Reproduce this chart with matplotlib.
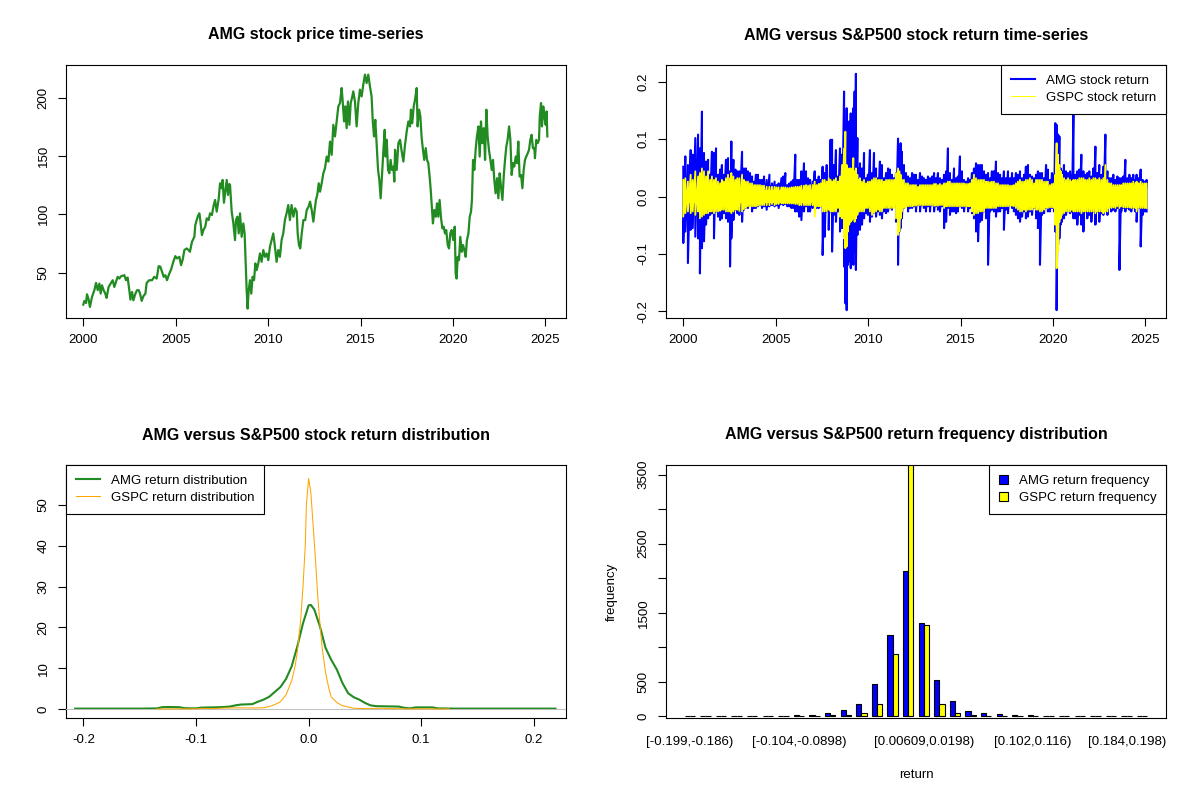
import numpy as np
import matplotlib
matplotlib.use("Agg")
import matplotlib.pyplot as plt
from matplotlib.lines import Line2D
from matplotlib.patches import Patch

plt.rcParams['font.family'] = ['Liberation Sans', 'DejaVu Sans']
plt.rcParams['axes.unicode_minus'] = False

# ------------------------------------------------------------------ data
# AMG closing price, three segments
price_years_a = [2000.00, 2000.06, 2000.15, 2000.20, 2000.29, 2000.36, 2000.47, 2000.60, 2000.69, 2000.78,
                 2000.87, 2000.94, 2001.01, 2001.10, 2001.19, 2001.26, 2001.37, 2001.50, 2001.59, 2001.68,
                 2001.77, 2001.86, 2001.95, 2002.04, 2002.22, 2002.31, 2002.40, 2002.49, 2002.55, 2002.64,
                 2002.71, 2002.82, 2002.91, 2003.00, 2003.07, 2003.16, 2003.25, 2003.36, 2003.43, 2003.57,
                 2003.72, 2003.84, 2003.97, 2004.08, 2004.17, 2004.26, 2004.35, 2004.44, 2004.53, 2004.62,
                 2004.75, 2004.87, 2004.98, 2005.07, 2005.20, 2005.29, 2005.38, 2005.47, 2005.59, 2005.70,
                 2005.77, 2005.88, 2006.01, 2006.06, 2006.19, 2006.28, 2006.33, 2006.42, 2006.50, 2006.60,
                 2006.68, 2006.78, 2006.86, 2006.96, 2007.04, 2007.13, 2007.22, 2007.33, 2007.40, 2007.49,
                 2007.54, 2007.61, 2007.67, 2007.76, 2007.83, 2007.90]
price_values_a = [22.4, 25.6, 23.8, 31.3, 26.7, 20.4, 29.0, 34.8, 41.1, 34.8,
                  40.5, 31.9, 39.0, 34.8, 31.9, 28.2, 37.6, 41.1, 43.4, 37.6,
                  42.0, 46.3, 44.8, 46.8, 47.7, 43.4, 45.7, 34.8, 26.7, 33.3,
                  26.1, 31.9, 34.8, 34.8, 31.9, 25.6, 29.6, 31.9, 41.1, 43.4,
                  43.4, 46.3, 44.8, 55.5, 55.0, 50.6, 46.3, 47.7, 43.4, 47.7,
                  52.6, 59.2, 64.1, 62.1, 63.5, 56.3, 61.2, 69.3, 70.7, 69.3,
                  67.8, 76.4, 80.7, 90.8, 98.0, 100.9, 95.1, 82.2, 86.5, 89.4,
                  96.6, 95.1, 100.9, 99.4, 106.6, 112.4, 102.3, 113.8, 126.7, 122.4,
                  129.6, 110.0, 118.1, 129.6, 116.7, 126.1]
price_years_b = [2007.94, 2008.03, 2008.12, 2008.21, 2008.26, 2008.34, 2008.41, 2008.48, 2008.57, 2008.66,
                 2008.73, 2008.79, 2008.84, 2008.89, 2008.95, 2009.02, 2009.09, 2009.16, 2009.24, 2009.31,
                 2009.38, 2009.47, 2009.56, 2009.65, 2009.74, 2009.83, 2009.92, 2010.01, 2010.10, 2010.19,
                 2010.28, 2010.37, 2010.46, 2010.55, 2010.64, 2010.73, 2010.82, 2010.91, 2011.00, 2011.09,
                 2011.18, 2011.27, 2011.37, 2011.46, 2011.55, 2011.60, 2011.67, 2011.74, 2011.82, 2011.91,
                 2012.01, 2012.09, 2012.19, 2012.27, 2012.36, 2012.45, 2012.52, 2012.59, 2012.66, 2012.74,
                 2012.81, 2012.90, 2012.99, 2013.08, 2013.17, 2013.26, 2013.35, 2013.44, 2013.53, 2013.62,
                 2013.71, 2013.80, 2013.89, 2013.98, 2014.03, 2014.11, 2014.18, 2014.25, 2014.32, 2014.40,
                 2014.47, 2014.54, 2014.61, 2014.70, 2014.79, 2014.88, 2014.97, 2015.06, 2015.15, 2015.24,
                 2015.33, 2015.42, 2015.51, 2015.60, 2015.66, 2015.73, 2015.80, 2015.87, 2015.95, 2016.02,
                 2016.09, 2016.16, 2016.24, 2016.31, 2016.36, 2016.42, 2016.49, 2016.56, 2016.63, 2016.70,
                 2016.78, 2016.83]
price_values_b = [125.3, 102.3, 92.2, 77.9, 95.1, 98.0, 83.6, 100.9, 80.7, 92.2,
                  83.6, 57.8, 34.8, 19.0, 34.8, 43.4, 31.9, 46.3, 43.4, 57.8,
                  52.0, 57.8, 66.4, 59.2, 69.3, 63.5, 66.4, 60.6, 72.1, 77.9,
                  83.6, 72.1, 59.2, 69.3, 63.5, 77.9, 83.6, 95.1, 100.9, 108.0,
                  95.1, 108.0, 98.0, 105.2, 102.3, 83.6, 73.6, 70.7, 83.6, 95.1,
                  95.1, 103.7, 106.6, 110.9, 103.7, 93.7, 103.7, 112.4, 116.7, 126.7,
                  119.5, 126.7, 135.3, 139.7, 149.7, 145.4, 162.6, 151.1, 177.0, 167.0,
                  179.9, 192.8, 195.7, 208.6, 198.6, 179.9, 192.8, 174.1, 197.1, 177.0,
                  195.7, 200.0, 205.7, 197.1, 175.6, 195.7, 207.2, 201.4, 211.5, 220.1,
                  212.9, 220.1, 210.1, 201.4, 181.3, 167.0, 181.3, 161.2, 138.2, 129.6,
                  113.8, 132.5, 155.5, 172.7, 149.7, 164.1, 138.2, 135.3, 146.8, 138.2,
                  141.1, 128.2]
price_years_c = [2016.87, 2016.96, 2017.05, 2017.14, 2017.23, 2017.32, 2017.41, 2017.50, 2017.59, 2017.68,
                 2017.73, 2017.80, 2017.88, 2017.95, 2018.04, 2018.09, 2018.17, 2018.24, 2018.31, 2018.38,
                 2018.45, 2018.53, 2018.60, 2018.67, 2018.74, 2018.80, 2018.85, 2018.92, 2018.99, 2019.07,
                 2019.14, 2019.21, 2019.28, 2019.36, 2019.43, 2019.50, 2019.57, 2019.64, 2019.72, 2019.79,
                 2019.86, 2019.93, 2020.02, 2020.10, 2020.15, 2020.20, 2020.26, 2020.33, 2020.40, 2020.48,
                 2020.55, 2020.62, 2020.69, 2020.76, 2020.84, 2020.91, 2020.98, 2021.03, 2021.09, 2021.16,
                 2021.23, 2021.30, 2021.38, 2021.45, 2021.52, 2021.59, 2021.67, 2021.74, 2021.81, 2021.88,
                 2021.95, 2022.03, 2022.10, 2022.17, 2022.24, 2022.31, 2022.39, 2022.46, 2022.53, 2022.60,
                 2022.68, 2022.75, 2022.82, 2022.89, 2022.96, 2023.04, 2023.11, 2023.18, 2023.25, 2023.32,
                 2023.40, 2023.47, 2023.54, 2023.61, 2023.69, 2023.76, 2023.83, 2023.90, 2023.97, 2024.05,
                 2024.12, 2024.19, 2024.26, 2024.33, 2024.41, 2024.44, 2024.51, 2024.59, 2024.66, 2024.70,
                 2024.77, 2024.82, 2024.89, 2024.95, 2025.02, 2025.07, 2025.11]
price_values_c = [155.5, 138.2, 161.2, 164.1, 154.0, 145.4, 159.8, 171.3, 179.9, 175.6,
                  190.0, 178.4, 192.8, 198.6, 208.6, 175.6, 190.0, 184.2, 165.5, 155.5,
                  146.8, 156.9, 146.8, 144.0, 132.5, 121.0, 109.5, 92.2, 103.7, 98.0,
                  109.5, 98.0, 112.4, 96.6, 87.9, 89.4, 83.6, 86.5, 73.6, 70.7,
                  83.6, 86.5, 77.9, 89.4, 49.1, 44.8, 63.5, 60.6, 80.7, 67.8,
                  73.6, 69.3, 63.5, 77.9, 83.6, 98.0, 102.3, 112.4, 146.8, 138.2,
                  155.5, 167.0, 175.6, 149.7, 179.9, 161.2, 174.1, 146.8, 190.0, 167.0,
                  155.5, 146.8, 138.2, 146.8, 129.6, 118.1, 131.1, 113.8, 135.3, 123.9,
                  112.4, 132.5, 146.8, 158.3, 164.1, 175.6, 164.1, 133.9, 144.0, 141.1,
                  149.7, 144.0, 162.6, 132.5, 133.9, 122.4, 138.2, 146.8, 149.7, 152.6,
                  155.5, 164.1, 168.4, 156.9, 156.9, 148.3, 164.1, 161.2, 164.1, 184.2,
                  195.7, 175.6, 192.8, 184.2, 177.0, 188.5, 167.0]

# Daily returns, summarised per chart column as (high, low) for AMG and GSPC
ret_years_1 = [2000.00, 2000.11, 2000.25, 2000.40, 2000.51, 2000.65, 2000.80, 2000.90, 2001.01, 2001.12,
               2001.23, 2001.34, 2001.45, 2001.55, 2001.66, 2001.77, 2001.88, 2001.99, 2002.09, 2002.20,
               2002.31, 2002.42, 2002.53, 2002.60, 2002.71, 2002.82, 2002.92, 2003.03, 2003.18, 2003.28,
               2003.39, 2003.50, 2003.61, 2003.72, 2003.83, 2003.93, 2004.04, 2004.15, 2004.26, 2004.37,
               2004.51, 2004.66, 2004.80, 2004.94, 2005.05, 2005.16, 2005.31, 2005.41, 2005.52, 2005.63,
               2005.74, 2005.85, 2005.95, 2006.06, 2006.17, 2006.28, 2006.39, 2006.53, 2006.64, 2006.75,
               2006.86, 2007.00, 2007.11, 2007.22, 2007.33, 2007.43, 2007.54, 2007.65, 2007.76, 2007.87,
               2007.97]
amg_ret_high_1 = [0.052, 0.070, 0.055, 0.081, 0.073, 0.102, 0.108, 0.084, 0.148, 0.076,
                  0.061, 0.064, 0.038, 0.078, 0.076, 0.084, 0.038, 0.047, 0.055, 0.038,
                  0.064, 0.067, 0.044, 0.096, 0.064, 0.047, 0.044, 0.044, 0.078, 0.049,
                  0.049, 0.044, 0.041, 0.035, 0.026, 0.038, 0.038, 0.029, 0.029, 0.035,
                  0.029, 0.038, 0.023, 0.026, 0.020, 0.023, 0.032, 0.035, 0.041, 0.020,
                  0.023, 0.026, 0.029, 0.073, 0.029, 0.029, 0.044, 0.058, 0.044, 0.032,
                  0.029, 0.026, 0.044, 0.029, 0.035, 0.029, 0.052, 0.041, 0.055, 0.026,
                  0.099]
amg_ret_low_1 = [-0.081, -0.061, -0.116, -0.058, -0.055, -0.070, -0.073, -0.134, -0.090, -0.078,
                 -0.049, -0.038, -0.032, -0.029, -0.073, -0.026, -0.035, -0.041, -0.038, -0.029,
                 -0.038, -0.044, -0.122, -0.073, -0.041, -0.023, -0.029, -0.032, -0.044, -0.023,
                 -0.020, -0.020, -0.015, -0.026, -0.020, -0.020, -0.017, -0.015, -0.020, -0.017,
                 -0.023, -0.017, -0.015, -0.017, -0.015, -0.020, -0.013, -0.015, -0.013, -0.017,
                 -0.017, -0.020, -0.020, -0.026, -0.026, -0.035, -0.041, -0.026, -0.017, -0.026,
                 -0.026, -0.020, -0.015, -0.020, -0.020, -0.017, -0.102, -0.070, -0.026, -0.058,
                 -0.026]
gspc_ret_high_1 = [0.029, 0.032, 0.026, 0.038, 0.029, 0.044, 0.035, 0.041, 0.049, 0.044,
                   0.035, 0.044, 0.029, 0.035, 0.029, 0.032, 0.026, 0.023, 0.029, 0.026,
                   0.032, 0.038, 0.032, 0.041, 0.035, 0.029, 0.032, 0.032, 0.038, 0.029,
                   0.026, 0.026, 0.023, 0.023, 0.020, 0.020, 0.020, 0.020, 0.019, 0.019,
                   0.017, 0.017, 0.017, 0.017, 0.016, 0.016, 0.016, 0.016, 0.016, 0.015,
                   0.015, 0.016, 0.016, 0.017, 0.017, 0.017, 0.019, 0.019, 0.020, 0.019,
                   0.020, 0.020, 0.026, 0.020, 0.022, 0.023, 0.029, 0.029, 0.026, 0.032,
                   0.029]
gspc_ret_low_1 = [-0.035, -0.029, -0.026, -0.029, -0.026, -0.032, -0.026, -0.038, -0.035, -0.032,
                  -0.029, -0.029, -0.026, -0.026, -0.029, -0.026, -0.026, -0.025, -0.023, -0.023,
                  -0.026, -0.026, -0.026, -0.029, -0.026, -0.023, -0.023, -0.025, -0.026, -0.022,
                  -0.020, -0.017, -0.017, -0.017, -0.017, -0.017, -0.016, -0.015, -0.015, -0.015,
                  -0.015, -0.015, -0.013, -0.015, -0.013, -0.013, -0.012, -0.012, -0.012, -0.012,
                  -0.012, -0.012, -0.012, -0.013, -0.013, -0.015, -0.015, -0.015, -0.015, -0.015,
                  -0.015, -0.015, -0.035, -0.017, -0.017, -0.017, -0.026, -0.026, -0.026, -0.023,
                  -0.026]

ret_years_2 = [2008.05, 2008.15, 2008.26, 2008.37, 2008.48, 2008.59, 2008.70, 2008.77, 2008.84, 2008.91,
               2008.98, 2009.06, 2009.13, 2009.20, 2009.27, 2009.34, 2009.42, 2009.49, 2009.56, 2009.67,
               2009.78, 2009.89, 2009.99, 2010.10, 2010.21, 2010.32, 2010.43, 2010.54, 2010.64, 2010.75,
               2010.86, 2010.97, 2011.08, 2011.18, 2011.29, 2011.40, 2011.51, 2011.62, 2011.69, 2011.76,
               2011.83, 2011.94, 2012.05, 2012.16, 2012.27, 2012.38, 2012.48, 2012.59, 2012.70, 2012.81,
               2012.92, 2013.02, 2013.13, 2013.24, 2013.35, 2013.46, 2013.57, 2013.67, 2013.78, 2013.89,
               2014.00, 2014.11, 2014.22, 2014.32, 2014.43, 2014.54, 2014.65, 2014.76, 2014.86, 2014.97,
               2015.08, 2015.19, 2015.30, 2015.41, 2015.51, 2015.62, 2015.73, 2015.84, 2015.95, 2016.06,
               2016.16, 2016.27, 2016.38, 2016.49, 2016.60, 2016.70]
amg_ret_high_2 = [0.099, 0.055, 0.081, 0.035, 0.084, 0.073, 0.183, 0.113, 0.154, 0.087,
                  0.131, 0.145, 0.131, 0.154, 0.183, 0.214, 0.102, 0.049, 0.058, 0.049,
                  0.076, 0.032, 0.038, 0.081, 0.041, 0.076, 0.049, 0.032, 0.061, 0.055,
                  0.032, 0.041, 0.049, 0.047, 0.038, 0.032, 0.041, 0.101, 0.078, 0.093,
                  0.078, 0.055, 0.041, 0.035, 0.032, 0.041, 0.038, 0.038, 0.029, 0.041,
                  0.035, 0.032, 0.029, 0.035, 0.032, 0.035, 0.041, 0.032, 0.041, 0.032,
                  0.029, 0.038, 0.044, 0.084, 0.041, 0.029, 0.049, 0.032, 0.035, 0.070,
                  0.044, 0.029, 0.026, 0.032, 0.029, 0.041, 0.049, 0.058, 0.055, 0.055,
                  0.055, 0.044, 0.038, 0.041, 0.032, 0.044]
amg_ret_low_2 = [-0.096, -0.032, -0.044, -0.026, -0.061, -0.055, -0.122, -0.186, -0.198, -0.119,
                 -0.113, -0.125, -0.102, -0.119, -0.096, -0.128, -0.067, -0.038, -0.058, -0.049,
                 -0.038, -0.029, -0.032, -0.044, -0.035, -0.029, -0.035, -0.026, -0.032, -0.038,
                 -0.026, -0.029, -0.026, -0.020, -0.023, -0.015, -0.044, -0.119, -0.061, -0.055,
                 -0.038, -0.020, -0.015, -0.026, -0.020, -0.020, -0.017, -0.026, -0.015, -0.026,
                 -0.015, -0.020, -0.026, -0.017, -0.026, -0.015, -0.026, -0.017, -0.023, -0.026,
                 -0.017, -0.055, -0.044, -0.020, -0.032, -0.026, -0.026, -0.029, -0.026, -0.017,
                 -0.020, -0.026, -0.017, -0.026, -0.020, -0.029, -0.038, -0.061, -0.078, -0.044,
                 -0.041, -0.026, -0.038, -0.119, -0.026, -0.023]
gspc_ret_high_2 = [0.026, 0.029, 0.032, 0.026, 0.035, 0.055, 0.084, 0.113, 0.055, 0.038,
                   0.049, 0.049, 0.044, 0.067, 0.044, 0.049, 0.038, 0.029, 0.032, 0.026,
                   0.029, 0.023, 0.026, 0.026, 0.029, 0.032, 0.032, 0.029, 0.029, 0.029,
                   0.026, 0.029, 0.029, 0.029, 0.029, 0.029, 0.041, 0.049, 0.044, 0.038,
                   0.029, 0.029, 0.023, 0.023, 0.020, 0.020, 0.020, 0.020, 0.017, 0.020,
                   0.020, 0.020, 0.020, 0.020, 0.020, 0.020, 0.022, 0.022, 0.020, 0.022,
                   0.020, 0.023, 0.023, 0.026, 0.026, 0.023, 0.023, 0.023, 0.023, 0.023,
                   0.023, 0.023, 0.022, 0.022, 0.023, 0.029, 0.038, 0.032, 0.029, 0.029,
                   0.029, 0.029, 0.026, 0.026, 0.025, 0.026]
gspc_ret_low_2 = [-0.026, -0.026, -0.026, -0.020, -0.035, -0.038, -0.073, -0.090, -0.087, -0.061,
                  -0.049, -0.044, -0.041, -0.038, -0.044, -0.038, -0.032, -0.026, -0.026, -0.026,
                  -0.026, -0.020, -0.020, -0.026, -0.032, -0.029, -0.026, -0.023, -0.026, -0.026,
                  -0.020, -0.020, -0.020, -0.020, -0.020, -0.020, -0.038, -0.067, -0.061, -0.038,
                  -0.026, -0.020, -0.020, -0.017, -0.017, -0.017, -0.016, -0.016, -0.015, -0.015,
                  -0.015, -0.015, -0.015, -0.015, -0.015, -0.015, -0.016, -0.016, -0.016, -0.015,
                  -0.015, -0.020, -0.017, -0.017, -0.017, -0.017, -0.017, -0.017, -0.017, -0.017,
                  -0.017, -0.017, -0.017, -0.017, -0.017, -0.026, -0.032, -0.029, -0.029, -0.026,
                  -0.026, -0.026, -0.020, -0.020, -0.020, -0.020]

ret_years_3 = [2016.81, 2016.92, 2017.03, 2017.14, 2017.25, 2017.35, 2017.46, 2017.57, 2017.68, 2017.79,
               2017.89, 2018.00, 2018.11, 2018.22, 2018.33, 2018.44, 2018.54, 2018.65, 2018.76, 2018.87,
               2018.98, 2019.09, 2019.19, 2019.30, 2019.41, 2019.52, 2019.63, 2019.73, 2019.84, 2019.95,
               2020.06, 2020.13, 2020.20, 2020.28, 2020.35, 2020.42, 2020.49, 2020.60, 2020.71, 2020.82,
               2020.93, 2021.03, 2021.11, 2021.21, 2021.32, 2021.43, 2021.54, 2021.65, 2021.75, 2021.86,
               2021.97, 2022.08, 2022.19, 2022.30, 2022.40, 2022.51, 2022.62, 2022.73, 2022.84, 2022.95,
               2023.05, 2023.16, 2023.27, 2023.38, 2023.49, 2023.60, 2023.70, 2023.81, 2023.92, 2024.03,
               2024.14, 2024.24, 2024.35, 2024.46, 2024.53, 2024.64, 2024.75, 2024.86, 2024.97, 2025.07]
amg_ret_high_3 = [0.044, 0.061, 0.041, 0.038, 0.032, 0.044, 0.032, 0.044, 0.032, 0.041,
                  0.032, 0.041, 0.038, 0.044, 0.032, 0.038, 0.052, 0.055, 0.038, 0.035,
                  0.032, 0.038, 0.044, 0.041, 0.041, 0.032, 0.055, 0.047, 0.029, 0.041,
                  0.038, 0.128, 0.125, 0.108, 0.105, 0.049, 0.044, 0.055, 0.044, 0.041,
                  0.044, 0.038, 0.145, 0.038, 0.044, 0.047, 0.073, 0.044, 0.038, 0.041,
                  0.044, 0.035, 0.049, 0.087, 0.041, 0.055, 0.038, 0.052, 0.108, 0.044,
                  0.032, 0.032, 0.038, 0.029, 0.035, 0.032, 0.032, 0.035, 0.064, 0.032,
                  0.038, 0.032, 0.038, 0.029, 0.038, 0.032, 0.047, 0.029, 0.026, 0.029]
amg_ret_low_3 = [-0.026, -0.035, -0.026, -0.026, -0.020, -0.058, -0.023, -0.029, -0.015, -0.020,
                 -0.026, -0.032, -0.038, -0.044, -0.035, -0.026, -0.038, -0.035, -0.026, -0.032,
                 -0.020, -0.038, -0.055, -0.119, -0.032, -0.029, -0.020, -0.026, -0.026, -0.020,
                 -0.026, -0.061, -0.198, -0.084, -0.073, -0.049, -0.044, -0.038, -0.032, -0.026,
                 -0.029, -0.026, -0.038, -0.038, -0.049, -0.032, -0.049, -0.061, -0.026, -0.038,
                 -0.032, -0.044, -0.026, -0.049, -0.026, -0.044, -0.029, -0.032, -0.020, -0.032,
                 -0.017, -0.026, -0.023, -0.026, -0.020, -0.128, -0.026, -0.020, -0.026, -0.020,
                 -0.023, -0.026, -0.020, -0.026, -0.044, -0.020, -0.087, -0.032, -0.026, -0.026]
gspc_ret_high_3 = [0.026, 0.023, 0.023, 0.020, 0.020, 0.020, 0.020, 0.020, 0.019, 0.019,
                   0.020, 0.023, 0.026, 0.029, 0.026, 0.026, 0.029, 0.029, 0.032, 0.029,
                   0.023, 0.029, 0.029, 0.029, 0.029, 0.026, 0.026, 0.026, 0.020, 0.022,
                   0.023, 0.038, 0.093, 0.073, 0.055, 0.044, 0.038, 0.032, 0.029, 0.032,
                   0.029, 0.026, 0.029, 0.029, 0.029, 0.032, 0.032, 0.032, 0.029, 0.029,
                   0.032, 0.029, 0.032, 0.032, 0.029, 0.032, 0.029, 0.032, 0.055, 0.029,
                   0.023, 0.023, 0.020, 0.020, 0.020, 0.020, 0.020, 0.023, 0.023, 0.023,
                   0.023, 0.023, 0.026, 0.023, 0.026, 0.023, 0.026, 0.023, 0.023, 0.023]
gspc_ret_low_3 = [-0.020, -0.020, -0.017, -0.017, -0.017, -0.017, -0.017, -0.017, -0.016, -0.016,
                  -0.017, -0.020, -0.023, -0.026, -0.026, -0.023, -0.026, -0.023, -0.023, -0.023,
                  -0.020, -0.023, -0.023, -0.026, -0.026, -0.023, -0.020, -0.020, -0.019, -0.019,
                  -0.020, -0.049, -0.125, -0.096, -0.044, -0.038, -0.032, -0.029, -0.026, -0.026,
                  -0.026, -0.023, -0.026, -0.026, -0.026, -0.026, -0.029, -0.026, -0.026, -0.026,
                  -0.026, -0.026, -0.026, -0.029, -0.026, -0.026, -0.026, -0.029, -0.026, -0.026,
                  -0.020, -0.020, -0.019, -0.020, -0.017, -0.020, -0.017, -0.019, -0.019, -0.019,
                  -0.019, -0.020, -0.020, -0.020, -0.026, -0.020, -0.020, -0.020, -0.020, -0.020]

# Kernel density of returns
amg_density_x = [-0.2074, -0.18, -0.15, -0.135, -0.13, -0.125, -0.115, -0.11, -0.10, -0.095,
                 -0.085, -0.075, -0.07, -0.065, -0.06, -0.055, -0.05, -0.045, -0.04, -0.035,
                 -0.03, -0.025, -0.02, -0.015, -0.01, -0.005, 0.0, 0.002, 0.005, 0.01,
                 0.015, 0.02, 0.025, 0.03, 0.035, 0.04, 0.045, 0.05, 0.055, 0.06,
                 0.07, 0.08, 0.085, 0.09, 0.095, 0.11, 0.115, 0.13, 0.16, 0.19, 0.2193]
amg_density_y = [0.1, 0.1, 0.1, 0.15, 0.45, 0.5, 0.45, 0.2, 0.15, 0.35,
                 0.4, 0.5, 0.6, 0.9, 1.1, 1.15, 1.2, 1.8, 2.3, 3.0,
                 4.2, 5.4, 7.4, 10.5, 15.4, 21.0, 25.4, 25.5, 24.4, 20.3,
                 15.0, 12.1, 9.7, 6.4, 3.9, 2.9, 2.3, 1.5, 0.9, 0.7,
                 0.65, 0.6, 0.3, 0.15, 0.4, 0.4, 0.15, 0.1, 0.1, 0.1, 0.1]
gspc_density_x = [-0.135, -0.10, -0.095, -0.085, -0.075, -0.06, -0.05, -0.04, -0.035, -0.03,
                  -0.025, -0.02, -0.015, -0.012, -0.01, -0.007, -0.005, -0.003, -0.002, 0.0,
                  0.002, 0.004, 0.006, 0.008, 0.01, 0.012, 0.015, 0.018, 0.02, 0.025,
                  0.03, 0.035, 0.04, 0.05, 0.06, 0.065, 0.07, 0.09, 0.125]
gspc_density_y = [0.02, 0.05, 0.15, 0.1, 0.25, 0.3, 0.25, 0.3, 0.6, 1.1,
                  1.8, 3.5, 7.0, 10.5, 14.0, 22.0, 30.0, 40.0, 50.0, 56.5,
                  53.0, 45.0, 37.0, 28.0, 21.0, 15.0, 9.0, 5.0, 3.0, 1.6,
                  0.8, 0.5, 0.2, 0.1, 0.15, 0.2, 0.1, 0.05, 0.02]

# Return frequency table (30 bins)
hist_bin_labels = ["[-0.199,-0.186)", "[-0.186,-0.172)", "[-0.172,-0.158)", "[-0.158,-0.145)",
                   "[-0.145,-0.131)", "[-0.131,-0.117)", "[-0.117,-0.104)", "[-0.104,-0.0898)",
                   "[-0.0898,-0.0761)", "[-0.0761,-0.0624)", "[-0.0624,-0.0487)", "[-0.0487,-0.035)",
                   "[-0.035,-0.0213)", "[-0.0213,-0.00761)", "[-0.00761,0.00609)", "[0.00609,0.0198)",
                   "[0.0198,0.0335)", "[0.0335,0.0472)", "[0.0472,0.0609)", "[0.0609,0.0746)",
                   "[0.0746,0.0883)", "[0.0883,0.102)", "[0.102,0.116)", "[0.116,0.129)",
                   "[0.129,0.143)", "[0.143,0.157)", "[0.157,0.171)", "[0.171,0.184)",
                   "[0.184,0.198)", "[0.198,0.212]"]
amg_counts = [10, 1, 1, 1, 1, 8, 1, 12, 12, 43, 87, 174, 463, 1176, 2109,
              1345, 521, 217, 77, 48, 34, 12, 12, 10, 1, 10, 1, 1, 1, 1]
gspc_counts = [0, 0, 0, 0, 0, 1, 0, 3, 5, 12, 18, 43, 183, 897, 3700,
               1316, 174, 43, 15, 10, 5, 3, 2, 0, 0, 0, 0, 0, 0, 0]
hist_shown_labels = [0, 7, 15, 22, 28]

# ------------------------------------------------------------------ figure
W, H = 1200.0, 800.0
PX = 0.72                      # points per pixel at dpi 100
FS = 13.3 * PX                 # tick / legend text
TFS = 16 * PX                  # titles

fig = plt.figure(figsize=(12, 8), dpi=100)
fig.patch.set_facecolor('white')


def make_axes(col, row):
    left = 600 * col + 66
    bottom = 400 * row + 318
    return fig.add_axes([left / W, 1 - bottom / H, 500 / W, 253 / H])


def style(ax, title):
    for s in ax.spines.values():
        s.set_linewidth(0.8)
        s.set_color('black')
    ax.tick_params(axis='both', direction='out', length=8 * PX, width=0.8,
                   colors='black', labelsize=FS)
    ax.tick_params(axis='x', pad=7.7 * PX)
    ax.tick_params(axis='y', pad=8.4 * PX)
    ax.annotate(title, xy=(0.5, 1), xycoords='axes fraction', xytext=(0, 30),
                textcoords='offset pixels', ha='center', va='center',
                fontsize=TFS, fontweight='bold')


def add_legend(ax, handles, labels, loc, **over):
    kw = dict(loc=loc, borderaxespad=0, fancybox=False, edgecolor='black',
              facecolor='white', framealpha=1, fontsize=FS, handlelength=1.8,
              handletextpad=0.85, borderpad=0.72, labelspacing=0.36)
    kw.update(over)
    leg = ax.legend(handles, labels, **kw)
    leg.get_frame().set_linewidth(0.8)
    leg.set_zorder(10)
    return leg


def spikes(x, hi, lo):
    """Interleave column highs and lows so a line runs through each column's range."""
    xs = np.repeat(np.asarray(x, float), 2)
    ys = np.empty(xs.size)
    ys[0::2] = hi
    ys[1::2] = lo
    return xs, ys


year_ticks = [2000, 2005, 2010, 2015, 2020, 2025]
xlim_years = (1999.064, 2026.12)

# ---- top-left: price
ax1 = make_axes(0, 0)
price_years = price_years_a + price_years_b + price_years_c
price_values = price_values_a + price_values_b + price_values_c
ax1.plot(price_years, price_values, color='#228B22', lw=1.6)
ax1.set_xlim(*xlim_years)
ax1.set_ylim(10.9, 228.4)
ax1.set_xticks(year_ticks, [str(y) for y in year_ticks])
ax1.set_yticks([50, 100, 150, 200], ['50', '100', '150', '200'], rotation=90, va='center')
style(ax1, 'AMG stock price time-series')

# ---- top-right: returns
ax2 = make_axes(1, 0)
ret_years = np.array(ret_years_1 + ret_years_2 + ret_years_3)
amg_hi = np.array(amg_ret_high_1 + amg_ret_high_2 + amg_ret_high_3)
amg_lo = np.array(amg_ret_low_1 + amg_ret_low_2 + amg_ret_low_3)
gs_hi = np.array(gspc_ret_high_1 + gspc_ret_high_2 + gspc_ret_high_3)
gs_lo = np.array(gspc_ret_low_1 + gspc_ret_low_2 + gspc_ret_low_3)
ax2.fill_between(ret_years, np.maximum(amg_lo, -0.02), np.minimum(amg_hi, 0.02),
                 facecolor='#0000FF', linewidth=0, zorder=1)
xs, ys = spikes(ret_years, amg_hi, amg_lo)
ax2.plot(xs, ys, color='#0000FF', lw=1.5, zorder=2)
ax2.fill_between(ret_years, np.maximum(gs_lo, -0.012), np.minimum(gs_hi, 0.012),
                 facecolor='#FFFF00', linewidth=0, zorder=3)
xs, ys = spikes(ret_years, gs_hi, gs_lo)
ax2.plot(xs, ys, color='#FFFF00', lw=1.3, zorder=4)
ax2.set_xlim(*xlim_years)
ax2.set_ylim(-0.2117, 0.2293)
ax2.set_xticks(year_ticks, [str(y) for y in year_ticks])
rt = [-0.2, -0.1, 0.0, 0.1, 0.2]
ax2.set_yticks(rt, ['-0.2', '-0.1', '0.0', '0.1', '0.2'], rotation=90, va='center')
style(ax2, 'AMG versus S&P500 stock return time-series')
add_legend(ax2, [Line2D([], [], color='#0000FF', lw=1.5),
                 Line2D([], [], color='#FFFF00', lw=0.75)],
           ['AMG stock return', 'GSPC stock return'], 'upper right')

# ---- bottom-left: density
ax3 = make_axes(0, 1)
ax3.plot(amg_density_x, amg_density_y, color='#228B22', lw=1.5, zorder=2)
ax3.axhline(0, color='#BEBEBE', lw=0.7, zorder=3)
ax3.plot(gspc_density_x, gspc_density_y, color='#FFA500', lw=0.75, zorder=4)
ax3.set_xlim(-0.2155, 0.2286)
ax3.set_ylim(-2.2, 59.8)
ax3.set_xticks(rt, ['-0.2', '-0.1', '0.0', '0.1', '0.2'])
ax3.set_yticks([0, 10, 20, 30, 40, 50], ['0', '10', '20', '30', '40', '50'],
               rotation=90, va='center')
style(ax3, 'AMG versus S&P500 stock return distribution')
add_legend(ax3, [Line2D([], [], color='#228B22', lw=1.5),
                 Line2D([], [], color='#FFA500', lw=0.75)],
           ['AMG return distribution', 'GSPC return distribution'], 'upper left')

# ---- bottom-right: frequency bars
ax4 = make_axes(1, 1)
k = np.arange(len(hist_bin_labels))
ax4.bar(3 * k + 1, amg_counts, width=1, align='edge', color='#0000FF',
        edgecolor='black', linewidth=0.8)
ax4.bar(3 * k + 2, gspc_counts, width=1, align='edge', color='#FFFF00',
        edgecolor='black', linewidth=0.8)
ax4.set_xlim(-2.56, 93.56)
ax4.set_ylim(-25, 3640)
ax4.set_xticks([3 * i + 2 for i in hist_shown_labels],
               [hist_bin_labels[i] for i in hist_shown_labels])
yt = [0, 500, 1000, 1500, 2000, 2500, 3000, 3500]
ax4.set_yticks(yt, ['0', '500', '', '1500', '', '2500', '', '3500'],
               rotation=90, va='center')
style(ax4, 'AMG versus S&P500 return frequency distribution')
ax4.tick_params(axis='x', length=0, pad=18.5 * PX)
ax4.annotate('frequency', xy=(0, 0.5), xycoords='axes fraction', xytext=(-54, 0),
             textcoords='offset pixels', rotation=90, ha='center', va='center',
             fontsize=FS)
ax4.annotate('return', xy=(0.5, 0), xycoords='axes fraction', xytext=(0, -57),
             textcoords='offset pixels', ha='center', va='center', fontsize=FS)
add_legend(ax4, [Patch(facecolor='#0000FF', edgecolor='black', linewidth=0.8),
                 Patch(facecolor='#FFFF00', edgecolor='black', linewidth=0.8)],
           ['AMG return frequency', 'GSPC return frequency'], 'upper right',
           handlelength=0.7, handleheight=0.7, handletextpad=0.8)

fig.savefig('out.png', dpi=100, facecolor='white')
